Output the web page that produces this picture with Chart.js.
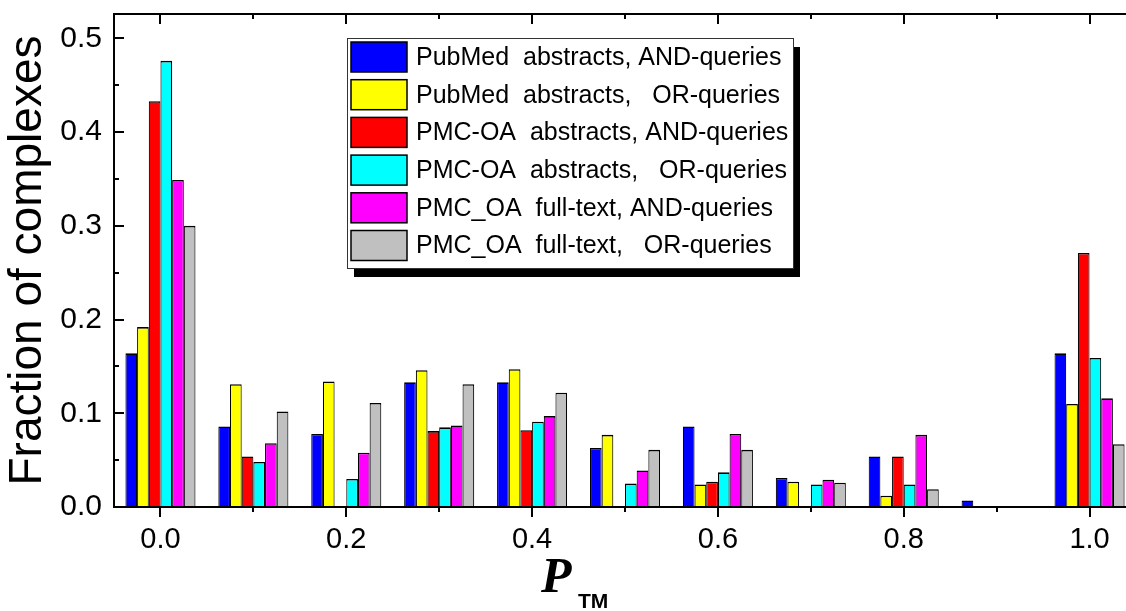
<!DOCTYPE html>
<html lang="en">
<head>
<meta charset="UTF-8">
<title>Fraction of complexes vs P_TM</title>
<script src="https://cdn.jsdelivr.net/npm/chart.js"></script>
<style>
  html, body { margin: 0; padding: 0; background: #fff; overflow: hidden; }
  #wrap { width: 1126px; height: 611px; overflow: hidden; position: relative; }
  #chart { position: absolute; left: 0; top: 0; }
</style>
</head>
<body>
<div id="wrap"><canvas id="chart" width="1146" height="611"></canvas></div>
<script>
  // bin centres on the P_TM axis
  const pTM = [0.0, 0.1, 0.2, 0.3, 0.4, 0.5, 0.6, 0.7, 0.8, 0.9, 1.0];
  const xTickValues = [0.0, 0.2, 0.4, 0.6, 0.8, 1.0];
  const xTickLabels = ['0.0', '0.2', '0.4', '0.6', '0.8', '1.0'];
  const yTickValues = [0.0, 0.1, 0.2, 0.3, 0.4, 0.5];
  const yTickLabels = ['0.0', '0.1', '0.2', '0.3', '0.4', '0.5'];

  const seriesNames = [
    'PubMed  abstracts, AND-queries',
    'PubMed  abstracts,   OR-queries',
    'PMC-OA  abstracts, AND-queries',
    'PMC-OA  abstracts,   OR-queries',
    'PMC_OA  full-text, AND-queries',
    'PMC_OA  full-text,   OR-queries'
  ];
  const seriesColors = ['#0000ff', '#ffff00', '#ff0000', '#00ffff', '#ff00ff', '#c0c0c0'];

  const pubmedAnd  = [0.164, 0.086, 0.078, 0.133, 0.133, 0.063, 0.086, 0.031, 0.054, 0.007, 0.164];
  const pubmedOr   = [0.192, 0.131, 0.134, 0.146, 0.147, 0.077, 0.024, 0.027, 0.012, null, 0.110];
  const pmcAbsAnd  = [0.433, 0.054, null, 0.081, 0.082, null, 0.027, null, 0.054, null, 0.271];
  const pmcAbsOr   = [0.476, 0.048, 0.030, 0.085, 0.091, 0.025, 0.037, 0.024, 0.024, null, 0.159];
  const pmcFullAnd = [0.349, 0.068, 0.058, 0.087, 0.097, 0.039, 0.078, 0.029, 0.077, null, 0.116];
  const pmcFullOr  = [0.300, 0.102, 0.111, 0.131, 0.122, 0.061, 0.061, 0.026, 0.019, null, 0.067];

  const series = [pubmedAnd, pubmedOr, pmcAbsAnd, pmcAbsOr, pmcFullAnd, pmcFullOr];
  const sans = '"Liberation Sans", Arial, sans-serif';

  // box, inward/outward ticks, legend with drop shadow, x title
  const decor = {
    id: 'decor',
    afterDraw(chart) {
      const { ctx, chartArea: a, scales: { x, y } } = chart;
      ctx.save();
      ctx.strokeStyle = '#000';
      ctx.lineWidth = 2;
      ctx.strokeRect(a.left, a.top, a.right - a.left, a.bottom - a.top);

      ctx.beginPath();
      pTM.forEach((v, i) => {
        const px = Math.round(x.getPixelForValue(v));
        const len = i % 2 === 0 ? 10 : 5;
        ctx.moveTo(px, a.bottom); ctx.lineTo(px, a.bottom + len);
        ctx.moveTo(px, a.top); ctx.lineTo(px, a.top + len);
      });
      yTickValues.forEach((v, i) => {
        const py = Math.round(y.getPixelForValue(v));
        ctx.moveTo(a.left, py); ctx.lineTo(a.left + 10, py);
        ctx.moveTo(a.right, py); ctx.lineTo(a.right - 10, py);
        if (i < yTickValues.length - 1) {
          const pm = Math.round(y.getPixelForValue((v + yTickValues[i + 1]) / 2));
          ctx.moveTo(a.left, pm); ctx.lineTo(a.left + 5, pm);
          ctx.moveTo(a.right, pm); ctx.lineTo(a.right - 5, pm);
        }
      });
      ctx.stroke();

      // legend
      const lx = 347, ly = 38, lw = 446, lh = 230;
      ctx.fillStyle = '#000';
      ctx.fillRect(lx + 7, ly + 9, lw, lh);
      ctx.fillStyle = '#fff';
      ctx.fillRect(lx, ly, lw, lh);
      ctx.lineWidth = 1;
      ctx.strokeStyle = '#333';
      ctx.strokeRect(lx + 0.5, ly + 0.5, lw, lh);
      ctx.font = '25px ' + sans;
      ctx.textBaseline = 'middle';
      ctx.textAlign = 'left';
      chart.data.datasets.forEach((ds, i) => {
        const ry = ly + 4 + i * 37.7;
        ctx.fillStyle = ds.backgroundColor;
        ctx.fillRect(351, ry, 56, 30);
        ctx.lineWidth = 1.5;
        ctx.strokeStyle = '#000';
        ctx.strokeRect(351, ry, 56, 30);
        ctx.fillStyle = '#000';
        ctx.fillText(ds.label, 416, ry + 16);
      });

      // x axis title P_TM
      ctx.textBaseline = 'alphabetic';
      ctx.font = 'italic bold 50px "Liberation Serif", "Times New Roman", serif';
      ctx.fillText('P', 541, 592);
      ctx.font = 'bold 21px ' + sans;
      ctx.fillText('TM', 578, 608);
      ctx.restore();
    }
  };

  new Chart(document.getElementById('chart'), {
    type: 'bar',
    data: {
      datasets: series.map((vals, i) => ({
        label: seriesNames[i],
        data: vals.map((v, j) => ({ x: pTM[j], y: v })),
        backgroundColor: seriesColors[i],
        borderColor: '#000',
        borderWidth: { top: 1.6, left: 1.1, right: 1.1, bottom: 0 },
        categoryPercentage: 0.754,
        barPercentage: 1.0
      }))
    },
    options: {
      responsive: false,
      animation: false,
      layout: { padding: { top: 14, right: 10, left: 0, bottom: 0 } },
      plugins: { legend: { display: false }, tooltip: { enabled: false } },
      scales: {
        x: {
          type: 'linear',
          min: -0.05,
          max: 1.05,
          offset: false,
          afterBuildTicks: s => { s.ticks = xTickValues.map(v => ({ value: v })); },
          afterFit: s => { s.height = 104; s.paddingLeft = 0; s.paddingRight = 0; },
          grid: { display: false, drawTicks: false },
          border: { display: false },
          ticks: {
            callback: (v, i) => xTickLabels[i],
            color: '#000',
            font: { family: sans, size: 29 },
            padding: 16,
            maxRotation: 0,
            autoSkip: false
          }
        },
        y: {
          min: 0,
          max: 0.526,
          afterBuildTicks: s => { s.ticks = yTickValues.map(v => ({ value: v })); },
          afterFit: s => { s.width = 114; s.paddingTop = 0; s.paddingBottom = 0; },
          grid: { display: false, drawTicks: false },
          border: { display: false },
          ticks: {
            callback: (v, i) => yTickLabels[i],
            color: '#000',
            font: { family: sans, size: 30 },
            padding: 12,
            autoSkip: false
          },
          title: {
            display: true,
            text: 'Fraction of complexes',
            color: '#000',
            font: { family: sans, size: 46 },
            padding: { top: 1, bottom: 0 }
          }
        }
      }
    },
    plugins: [decor]
  });
</script>
</body>
</html>
